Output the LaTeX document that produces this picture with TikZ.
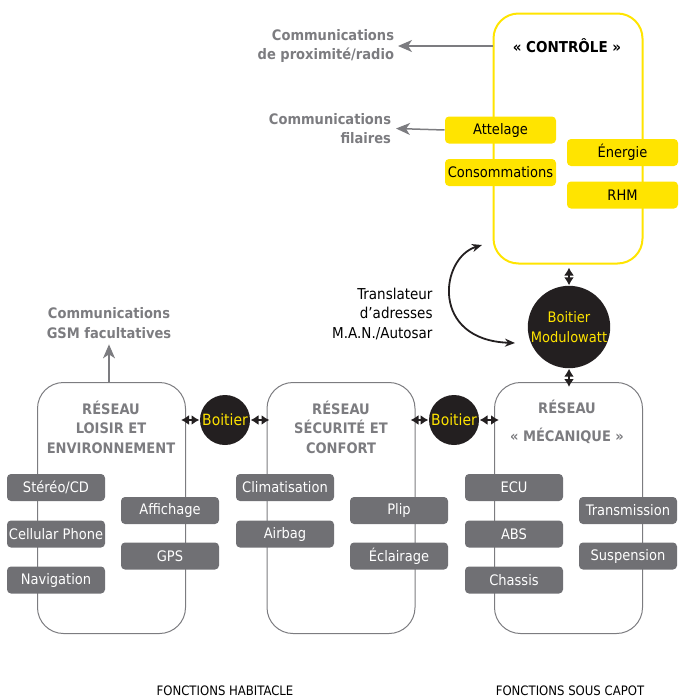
\documentclass[tikz,border=0pt]{standalone}
\usepackage{fontspec}
\setmainfont{DejaVuSansCondensed}[Extension=.ttf,BoldFont=DejaVuSansCondensed-Bold]
\usetikzlibrary{arrows.meta}

\definecolor{mwyellow}{RGB}{255,228,0}
\definecolor{mwgray}{RGB}{112,112,116}
\definecolor{mwtext}{RGB}{124,124,128}
\definecolor{mwdark}{RGB}{35,31,32}

\tikzset{every picture/.style={line width=1pt},
  netbox/.style={draw=mwtext, line width=1pt, rounded corners=26pt, minimum width=148pt, minimum height=251pt, inner sep=0pt},
  ctrlbox/.style={draw=mwyellow, line width=2pt, rounded corners=25pt, minimum width=149pt, minimum height=250pt, inner sep=0pt},
  grayitem/.style={fill=mwgray, text=white, rounded corners=4pt, minimum width=98pt, minimum height=27pt, inner sep=0pt, font=\fontsize{14.5}{16}\selectfont},
  yellowitem/.style={fill=mwyellow, text=black, rounded corners=4pt, minimum width=111pt, minimum height=27pt, inner sep=0pt, font=\fontsize{14.5}{16}\selectfont},
  boitier/.style={circle, fill=mwdark, text=mwyellow, minimum size=50pt, inner sep=0pt, font=\fontsize{15.5}{19}\selectfont, align=center},
  graytitle/.style={text=mwtext, font=\bfseries\fontsize{14.5}{19.5}\selectfont, align=center, inner sep=0pt},
  plaintext/.style={text=black, font=\fontsize{15}{19.5}\selectfont, inner sep=0pt},
  grayarrow/.style={draw=mwtext, line width=1.5pt, -{Stealth[length=14pt,width=12pt,inset=4pt]}},
  dblarrow/.style={draw=mwdark, line width=2pt, {Latex[length=8pt,width=10pt]}-{Latex[length=8pt,width=10pt]}},
}

\begin{document}
\begin{tikzpicture}[x=1pt,y=1pt,yscale=-1]
\useasboundingbox (0,0) rectangle (678,699);

%Shape: control box
\node [ctrlbox] (ctrl) at (568,138.5) {};
%Shape: network boxes
\node [netbox] (lre) at (111.5,508) {};
\node [netbox] (sec) at (341,508) {};
\node [netbox] (mec) at (568.5,508) {};

% Text Node
\node [font=\bfseries\fontsize{15}{17}\selectfont, inner sep=0pt] (ctrltitle) at (567,46) {« CONTRÔLE »};
\node [graytitle, align=right, anchor=east, outer xsep=4pt] (prox) at (398,46) {Communications\\de proximité/radio};
\node [graytitle, align=right, anchor=east, outer xsep=5pt] (fil) at (396,128.5) {Communications\\filaires};
\node [graytitle, outer ysep=6pt] (gsm) at (109,323) {Communications\\GSM facultatives};
\node [plaintext, align=right, anchor=east] (trans) at (433,313.5) {Translateur\\d’adresses\\M.A.N./Autosar};

% Text Node
\node [graytitle] (lretitle) at (111,427) {RÉSEAU\\LOISIR ET\\ENVIRONNEMENT};
\node [graytitle] (sectitle) at (341,427) {RÉSEAU\\SÉCURITÉ ET\\CONFORT};
\node [graytitle] (mectitle) at (567,422) {RÉSEAU\\[8pt]« MÉCANIQUE »};

%Shape: control items
\node [yellowitem] (att) at (500.5,130) {Attelage};
\node [yellowitem] (cons) at (500.5,172.5) {Consommations};
\node [yellowitem] (ener) at (622.5,152.5) {Énergie};
\node [yellowitem] (rhm) at (622.5,195) {RHM};

%Shape: items of the networks
\node [grayitem] (stereo) at (56,487.5) {Stéréo/CD};
\node [grayitem] (cell) at (56,534) {Cellular Phone};
\node [grayitem] (navi) at (56,580) {Navigation};
\node [grayitem] (affi) at (170,510.5) {Affichage};
\node [grayitem] (gps) at (170,556) {GPS};
\node [grayitem] (clim) at (285,487.5) {Climatisation};
\node [grayitem] (airbag) at (285,534) {Airbag};
\node [grayitem] (plip) at (399,510.5) {Plip};
\node [grayitem] (eclair) at (399,556) {Éclairage};
\node [grayitem] (ecu) at (514,487.5) {ECU};
\node [grayitem] (abs) at (514,534) {ABS};
\node [grayitem] (chassis) at (514,580) {Chassis};
\node [grayitem] (transm) at (628,510.5) {Transmission};
\node [grayitem] (susp) at (628,556) {Suspension};

%Shape: boitiers
\node [boitier] (bt1) at (225,420) {Boitier};
\node [boitier] (bt2) at (454,420) {Boitier};
\node [boitier, minimum size=82pt, font=\fontsize{14.5}{20}\selectfont] (modw) at (569,327) {Boitier\\Modulowatt};

%Straight Lines
\draw [grayarrow] (ctrl.west |- prox.east) -- (prox.east);
\draw [grayarrow] (att.west) -- (fil.east);
\draw [grayarrow] (lre.north -| gsm.south) -- (gsm.south);
\draw [dblarrow] ([xshift=-5pt]lre.east |- bt1.west) -- (bt1.west);
\draw [dblarrow] (bt1.east) -- ([xshift=3pt]sec.west |- bt1.east);
\draw [dblarrow] ([xshift=-5pt]sec.east |- bt2.west) -- (bt2.west);
\draw [dblarrow] (bt2.east) -- ([xshift=5pt]mec.west |- bt2.east);
\draw [dblarrow] ([yshift=3pt]ctrl.south -| modw.north) -- (modw.north);
\draw [dblarrow] (modw.south) -- ([yshift=5pt]mec.north -| modw.south);

%Curve Lines
\coordinate (transtop) at (482,245);
\coordinate (transbot) at (515,343);
\draw [dblarrow, line width=1.8pt, {Stealth[length=10pt,width=8pt,inset=3pt]}-{Stealth[length=10pt,width=8pt,inset=3pt]}] (transtop) .. controls (440,258) and (430,340) .. (transbot);

% Text Node
\node [plaintext, font=\fontsize{13}{15}\selectfont, anchor=base] (habit) at (225,695) {FONCTIONS HABITACLE};
\node [plaintext, font=\fontsize{13}{15}\selectfont, anchor=base] (capot) at (570,695) {FONCTIONS SOUS CAPOT};

\end{tikzpicture}
\end{document}
